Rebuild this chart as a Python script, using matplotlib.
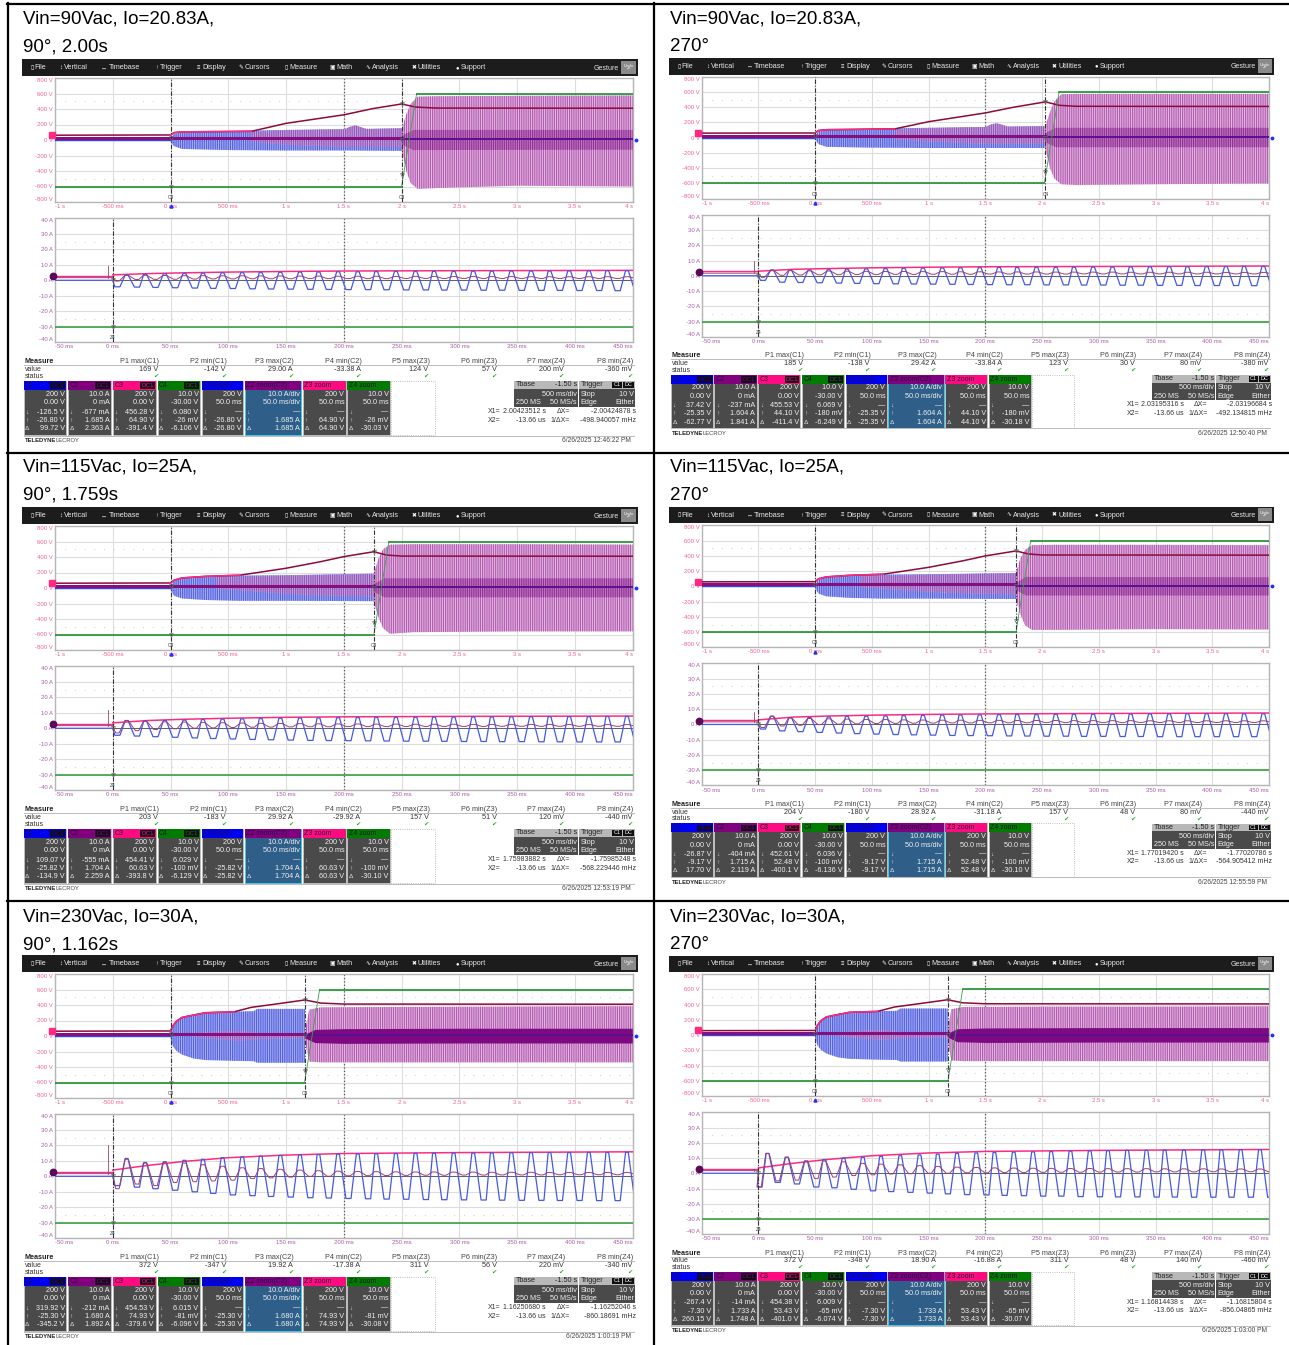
import numpy as np
import matplotlib
matplotlib.use('Agg')
import matplotlib.pyplot as plt
from matplotlib.patches import Rectangle

plt.rcParams['font.family'] = ['Liberation Sans', 'DejaVu Sans']
plt.rcParams['hatch.linewidth'] = 0.6

W, H = 1289, 1345

# shared time lists for the zoomed current plots (ms)
peak_ms_a = [12, 28, 45, 62, 78, 95, 112, 128, 145, 162, 178, 195, 212, 228, 245, 262, 278, 295, 312, 328, 345, 362, 378, 395, 412, 428, 445]
trough_ms_a = [4, 21, 37, 54, 71, 87, 104, 121, 137, 154, 171, 187, 204, 221, 237, 254, 271, 287, 304, 321, 337, 354, 371, 387, 404, 421, 437, 454]
peak_ms_b = [8, 25, 42, 58, 75, 92, 108, 125, 142, 158, 175, 192, 208, 225, 242, 258, 275, 292, 308, 325, 342, 358, 375, 392, 408, 425, 442]
trough_ms_b = [1, 17, 34, 51, 67, 84, 101, 117, 134, 151, 167, 184, 201, 217, 234, 251, 267, 284, 301, 317, 334, 351, 367, 384, 401, 417, 434, 451]
env_ms = [0, 30, 60, 100, 150, 200, 300, 450]

# --- 90Vac 90deg
l1_c2 = 2.004
l1_blue_t = [0, .03, .1, .5, 1, 1.5, 2.004]
l1_blue_hi = [20, 80, 100, 115, 130, 140, 150]
l1_blue_lo = [-20, -80, -115, -130, -135, -135, -140]
l1_pre_t = [.7, 1, 1.5, 1.55, 1.6, 1.65, 1.7, 2.004]
l1_pre_hi = [100, 125, 135, 170, 190, 165, 140, 150]
l1_pre_lo = [-20, -60, -90, -90, -90, -90, -90, -90]
l1_after_t = [2.004, 2.04, 2.08, 2.14, 2.3, 3, 4]
l1_after_hi = [150, 330, 470, 560, 565, 570, 575]
l1_after_lo = [-150, -400, -560, -630, -620, -590, -600]
l1_core_t = [2.004, 2.1, 4]
l1_core_hi = [60, 130, 130]
l1_core_lo = [-60, -130, -125]
l1_red_t = [-1, 0, .03, .1, .7, 1.0, 1.5, 1.75, 2.0, 2.12, 2.3, 4]
l1_red = [62, 65, 95, 105, 112, 215, 325, 405, 465, 425, 412, 410]
l1_green_t = [-1, 2.0, 2.13, 4]
l1_i_hi = [3.5, 3.9, 4.2, 4.4, 4.6, 4.8, 4.9, 5.0, 5.2, 5.3, 5.4, 5.5, 5.5, 5.6, 5.7, 5.7, 5.8, 5.8, 5.9, 5.9, 6.0, 6.0, 6.0, 6.1, 6.1, 6.2, 6.2]
l1_i_lo = [-4.2, -4.4, -4.6, -4.8, -5.0, -5.2, -5.3, -5.5, -5.6, -5.7, -5.8, -5.9, -6.0, -6.0, -6.1, -6.2, -6.2, -6.3, -6.3, -6.4, -6.4, -6.5, -6.5, -6.5, -6.6, -6.6, -6.7, -6.7]
l1_p_hi = [3.2, 3.2, 3.1, 3.0, 3.0, 2.9, 2.9, 2.8, 2.8, 2.7, 2.7, 2.6, 2.6, 2.6, 2.5, 2.5, 2.5, 2.4, 2.4, 2.4, 2.4, 2.3, 2.3, 2.3, 2.3, 2.3, 2.3]
l1_p_lo = [-0.5, 0.5, 0.6, 0.7, 0.8, 0.9, 0.9, 1.0, 1.0, 1.0, 1.1, 1.1, 1.1, 1.1, 1.1, 1.2, 1.2, 1.2, 1.2, 1.2, 1.2, 1.2, 1.2, 1.2, 1.2, 1.2, 1.2, 1.2]
l1_env = [3.5, 4.3, 4.8, 5.3, 5.7, 6.0, 6.2, 6.4]
l1_spike = 9

# --- 90Vac 270deg
r1_c2 = 2.03
r1_blue_t = [0, .03, .1, .5, 1, 1.5, 2.03]
r1_blue_hi = [20, 85, 105, 120, 130, 140, 150]
r1_blue_lo = [-20, -85, -120, -130, -135, -135, -135]
r1_pre_t = [.7, 1, 1.5, 1.55, 1.6, 1.65, 1.7, 2.03]
r1_pre_hi = [100, 125, 140, 175, 190, 170, 145, 150]
r1_pre_lo = [-20, -50, -80, -80, -80, -80, -80, -80]
r1_after_t = [2.03, 2.07, 2.11, 2.17, 2.3, 3, 4]
r1_after_hi = [150, 340, 480, 570, 575, 575, 575]
r1_after_lo = [-150, -400, -540, -610, -620, -610, -600]
r1_core_t = [2.03, 2.12, 4]
r1_core_hi = [60, 130, 130]
r1_core_lo = [-60, -125, -125]
r1_red_t = [-1, 0, .03, .1, .7, 1.0, 1.5, 1.75, 2.03, 2.15, 2.3, 4]
r1_red = [60, 62, 95, 105, 115, 210, 325, 400, 470, 425, 412, 410]
r1_green_t = [-1, 2.02, 2.15, 4]
r1_i_hi = [3.8, 3.6, 3.8, 4.0, 4.3, 4.5, 4.7, 4.9, 5.0, 5.1, 5.2, 5.3, 5.4, 5.4, 5.5, 5.5, 5.6, 5.7, 5.7, 5.8, 5.8, 5.9, 5.9, 6.0, 6.0, 6.1, 6.1]
r1_i_lo = [-3.0, -4.2, -4.4, -4.6, -4.8, -5.0, -5.2, -5.3, -5.4, -5.5, -5.6, -5.7, -5.8, -5.9, -5.9, -6.0, -6.0, -6.1, -6.1, -6.2, -6.2, -6.3, -6.3, -6.4, -6.4, -6.4, -6.5, -6.5]
r1_p_hi = [3.5, 3.4, 3.2, 3.1, 3.0, 2.9, 2.8, 2.8, 2.7, 2.7, 2.6, 2.6, 2.5, 2.5, 2.5, 2.4, 2.4, 2.4, 2.4, 2.3, 2.3, 2.3, 2.3, 2.3, 2.2, 2.2, 2.2]
r1_p_lo = [-1.0, 0.3, 0.5, 0.6, 0.7, 0.8, 0.8, 0.9, 0.9, 1.0, 1.0, 1.0, 1.1, 1.1, 1.1, 1.1, 1.1, 1.2, 1.2, 1.2, 1.2, 1.2, 1.2, 1.2, 1.2, 1.2, 1.2, 1.2]
r1_env = [3.0, 4.2, 4.7, 5.2, 5.6, 5.9, 6.1, 6.4]
r1_spike = 10

# --- 115Vac 90deg
l2_c2 = 1.759
l2_blue_t = [0, .03, .1, .3, .6, 1, 1.759]
l2_blue_hi = [20, 90, 130, 150, 160, 165, 185]
l2_blue_lo = [-20, -100, -135, -155, -165, -165, -170]
l2_pre_t = [.4, .8, 1.2, 1.759]
l2_pre_hi = [130, 150, 165, 180]
l2_pre_lo = [-10, -50, -90, -110]
l2_after_t = [1.759, 1.80, 1.84, 1.90, 2.1, 3, 4]
l2_after_hi = [185, 380, 500, 560, 565, 565, 560]
l2_after_lo = [-180, -380, -520, -590, -570, -560, -560]
l2_core_t = [1.759, 1.85, 4]
l2_core_hi = [50, 125, 125]
l2_core_lo = [-50, -120, -120]
l2_red_t = [-1, 0, .03, .1, .3, .6, 1, 1.3, 1.5, 1.759, 1.87, 2.0, 4]
l2_red = [62, 65, 100, 130, 150, 165, 255, 340, 405, 468, 425, 412, 410]
l2_green_t = [-1, 1.76, 1.89, 4]
l2_i_hi = [5.0, 4.8, 5.0, 5.3, 5.6, 5.9, 6.1, 6.3, 6.5, 6.6, 6.7, 6.8, 6.9, 7.0, 7.0, 7.1, 7.2, 7.2, 7.3, 7.3, 7.4, 7.4, 7.5, 7.5, 7.5, 7.6, 7.6]
l2_i_lo = [-4.5, -5.0, -5.4, -5.8, -6.2, -6.6, -6.9, -7.2, -7.4, -7.6, -7.8, -7.9, -8.0, -8.1, -8.2, -8.3, -8.3, -8.4, -8.5, -8.5, -8.6, -8.6, -8.7, -8.7, -8.8, -8.8, -8.8, -8.8]
l2_p_hi = [5.0, 4.5, 4.2, 4.0, 3.8, 3.6, 3.4, 3.2, 3.1, 3.0, 2.9, 2.8, 2.8, 2.7, 2.7, 2.6, 2.6, 2.6, 2.5, 2.5, 2.5, 2.5, 2.5, 2.4, 2.4, 2.4, 2.4]
l2_p_lo = [-3.0, -1.5, -0.8, -0.3, 0.1, 0.3, 0.5, 0.7, 0.8, 0.9, 1.0, 1.0, 1.1, 1.1, 1.1, 1.2, 1.2, 1.2, 1.2, 1.2, 1.3, 1.3, 1.3, 1.3, 1.3, 1.3, 1.3, 1.3]
l2_env = [3.5, 5.0, 5.8, 6.5, 7.1, 7.4, 7.7, 7.9]
l2_spike = 12

# --- 115Vac 270deg
r2_c2 = 1.77
r2_blue_t = [0, .03, .1, .3, .6, 1, 1.77]
r2_blue_hi = [20, 90, 125, 145, 155, 160, 175]
r2_blue_lo = [-20, -95, -130, -150, -160, -160, -165]
r2_pre_t = [.4, .8, 1.2, 1.77]
r2_pre_hi = [125, 145, 160, 170]
r2_pre_lo = [-10, -50, -85, -105]
r2_after_t = [1.77, 1.81, 1.85, 1.91, 2.1, 3, 4]
r2_after_hi = [175, 370, 480, 540, 545, 545, 540]
r2_after_lo = [-170, -370, -510, -570, -570, -560, -565]
r2_core_t = [1.77, 1.86, 4]
r2_core_hi = [50, 125, 120]
r2_core_lo = [-50, -120, -120]
r2_red_t = [-1, 0, .03, .1, .3, .6, 1, 1.3, 1.5, 1.77, 1.88, 2.0, 4]
r2_red = [60, 62, 100, 125, 145, 160, 250, 335, 400, 465, 425, 412, 410]
r2_green_t = [-1, 1.77, 1.9, 4]
r2_i_hi = [5.4, 4.4, 4.6, 4.9, 5.2, 5.4, 5.6, 5.8, 5.9, 6.1, 6.2, 6.3, 6.4, 6.5, 6.5, 6.6, 6.7, 6.7, 6.8, 6.8, 6.9, 6.9, 7.0, 7.0, 7.0, 7.0, 7.0]
r2_i_lo = [-3.0, -4.2, -4.7, -5.2, -5.6, -6.0, -6.3, -6.6, -6.8, -7.0, -7.2, -7.3, -7.4, -7.5, -7.6, -7.7, -7.7, -7.8, -7.8, -7.9, -7.9, -8.0, -8.0, -8.0, -8.0, -8.0, -8.0, -8.0]
r2_p_hi = [5.4, 4.2, 3.9, 3.7, 3.5, 3.3, 3.2, 3.0, 2.9, 2.8, 2.8, 2.7, 2.7, 2.6, 2.6, 2.6, 2.5, 2.5, 2.5, 2.5, 2.4, 2.4, 2.4, 2.4, 2.4, 2.4, 2.4]
r2_p_lo = [-2.0, -1.0, -0.5, -0.1, 0.2, 0.4, 0.6, 0.7, 0.8, 0.9, 1.0, 1.0, 1.1, 1.1, 1.1, 1.2, 1.2, 1.2, 1.2, 1.2, 1.3, 1.3, 1.3, 1.3, 1.3, 1.3, 1.3, 1.3]
r2_env = [3.0, 4.8, 5.5, 6.1, 6.6, 6.9, 7.2, 7.5]
r2_spike = 8

# --- 230Vac 90deg
l3_c2 = 1.1625
l3_blue_t = [0, .02, .05, .1, .2, .3, .55, .72, .75, 1.1625]
l3_blue_hi = [30, 130, 190, 240, 280, 300, 315, 320, 350, 350]
l3_blue_lo = [-30, -130, -190, -240, -290, -310, -320, -325, -345, -345]
l3_pre_t = [.2, .4, .6, .75, 1.1625]
l3_pre_hi = [30, 60, 65, 40, 25]
l3_pre_lo = [-10, -40, -60, -40, -25]
l3_after_t = [1.1625, 1.2, 1.3, 2, 3, 4]
l3_after_hi = [60, 340, 370, 375, 380, 385]
l3_after_lo = [-60, -330, -340, -340, -340, -340]
l3_core_t = [1.1625, 1.25, 1.5, 2.5, 4]
l3_core_hi = [25, 85, 95, 100, 100]
l3_core_lo = [-25, -85, -95, -90, -90]
l3_red_t = [-1, 0, .02, .05, .1, .3, .55, .7, .9, 1.1625, 1.3, 1.5, 4]
l3_red = [62, 65, 130, 190, 240, 300, 312, 370, 410, 465, 425, 412, 410]
l3_green_t = [-1, 1.16, 1.29, 4]
l3_i_hi = [11.5, 8.9, 9.4, 10.3, 11.0, 12.0, 12.5, 13.0, 13.5, 13.8, 14.0, 14.2, 14.4, 14.5, 14.7, 14.8, 14.9, 15.0, 15.0, 15.1, 15.2, 15.2, 15.3, 15.3, 15.4, 15.4, 15.4]
l3_i_lo = [-6.0, -7.0, -8.0, -9.0, -10.0, -11.0, -12.0, -12.5, -13.0, -13.4, -13.8, -14.0, -14.3, -14.5, -14.7, -14.8, -15.0, -15.1, -15.2, -15.3, -15.4, -15.5, -15.5, -15.6, -15.6, -15.7, -15.7, -15.7]
l3_p_hi = [11.0, 8.5, 9.0, 8.5, 7.5, 6.5, 5.5, 5.0, 4.5, 4.0, 3.6, 3.3, 3.1, 3.0, 2.9, 2.8, 2.8, 2.7, 2.7, 2.6, 2.6, 2.6, 2.5, 2.5, 2.5, 2.5, 2.5]
l3_p_lo = [-8.0, -5.0, -6.0, -4.0, -3.5, -3.0, -2.5, -1.5, -1.0, -0.5, 0.0, 0.0, 0.3, 0.4, 0.5, 0.6, 0.7, 0.7, 0.8, 0.8, 0.9, 0.9, 0.9, 1.0, 1.0, 1.0, 1.0, 1.0]
l3_env = [4.0, 7.0, 9.5, 12.0, 13.7, 14.7, 15.3, 15.8]
l3_spike = 20

# --- 230Vac 270deg
r3_c2 = 1.168
r3_blue_t = [0, .02, .05, .1, .2, .3, .55, .72, .75, 1.168]
r3_blue_hi = [30, 130, 190, 240, 280, 300, 315, 320, 350, 350]
r3_blue_lo = [-30, -130, -190, -240, -290, -310, -320, -325, -345, -345]
r3_pre_t = [.2, .4, .6, .75, 1.168]
r3_pre_hi = [30, 60, 65, 40, 25]
r3_pre_lo = [-10, -40, -60, -40, -25]
r3_after_t = [1.168, 1.2, 1.3, 2, 3, 4]
r3_after_hi = [60, 340, 370, 375, 375, 380]
r3_after_lo = [-60, -330, -340, -340, -340, -340]
r3_core_t = [1.168, 1.25, 1.5, 2.5, 4]
r3_core_hi = [25, 85, 95, 100, 100]
r3_core_lo = [-25, -85, -95, -90, -90]
r3_red_t = [-1, 0, .02, .05, .1, .3, .55, .7, .9, 1.168, 1.3, 1.5, 4]
r3_red = [60, 62, 130, 190, 240, 300, 312, 370, 410, 465, 425, 412, 410]
r3_green_t = [-1, 1.17, 1.3, 4]
r3_i_hi = [13.0, 10.5, 8.0, 9.0, 10.0, 10.5, 11.0, 11.5, 12.0, 12.5, 13.0, 13.3, 13.6, 13.8, 14.0, 14.2, 14.5, 14.7, 14.8, 15.0, 15.0, 15.2, 15.2, 15.4, 15.5, 15.5, 15.5]
r3_i_lo = [-9.0, -6.0, -7.0, -9.0, -9.5, -10.5, -11.5, -12.0, -12.5, -13.0, -13.5, -14.0, -14.2, -14.5, -14.7, -15.0, -15.0, -15.3, -15.4, -15.5, -15.5, -15.6, -15.6, -15.7, -15.7, -15.7, -15.7, -15.7]
r3_p_hi = [13.0, 10.5, 8.0, 8.0, 7.5, 6.5, 6.0, 5.5, 5.0, 4.5, 4.0, 3.8, 3.5, 3.4, 3.3, 3.2, 3.1, 3.1, 3.0, 3.0, 3.0, 2.9, 2.9, 2.9, 2.8, 2.8, 2.8]
r3_p_lo = [-9.0, -5.0, -4.5, -3.5, -2.5, -1.5, -1.0, -0.5, -0.3, 0.0, 0.0, 0.3, 0.3, 0.5, 0.5, 0.6, 0.7, 0.7, 0.8, 0.8, 0.8, 0.9, 0.9, 0.9, 1.0, 1.0, 1.0, 1.0]
r3_env = [3.5, 6.5, 9.0, 11.5, 13.3, 14.3, 15.0, 15.6]
r3_spike = 3

# measurement tables
p_names = ['P1 max(C1)', 'P2 min(C1)', 'P3 max(C2)', 'P4 min(C2)', 'P5 max(Z3)', 'P6 min(Z3)', 'P7 max(Z4)', 'P8 min(Z4)']
l1_meas = ['169 V', '-142 V', '29.00 A', '-33.38 A', '124 V', '57 V', '200 mV', '-360 mV']
r1_meas = ['185 V', '-138 V', '29.42 A', '-33.84 A', '123 V', '30 V', '80 mV', '-380 mV']
l2_meas = ['203 V', '-183 V', '29.92 A', '-29.92 A', '157 V', '51 V', '120 mV', '-440 mV']
r2_meas = ['204 V', '-180 V', '28.92 A', '-31.18 A', '157 V', '48 V', '80 mV', '-440 mV']
l3_meas = ['372 V', '-347 V', '19.92 A', '-17.38 A', '311 V', '56 V', '220 mV', '-340 mV']
r3_meas = ['372 V', '-348 V', '18.90 A', '-16.88 A', '311 V', '48 V', '140 mV', '-460 mV']

# cursor readouts per channel: C1 (3), C2 (3), C3 (3), C4 (3), Z4 delta
l1_read = ['-126.5 V', '-26.80 V', '99.72 V', '-677 mA', '1.685 A', '2.363 A', '456.28 V', '64.90 V', '-391.4 V', '6.080 V', '-26 mV', '-6.106 V', '-30.03 V']
r1_read = ['37.42 V', '-25.35 V', '-62.77 V', '-237 mA', '1.604 A', '1.841 A', '455.53 V', '44.10 V', '-411.4 V', '6.069 V', '-180 mV', '-6.249 V', '-30.18 V']
l2_read = ['109.07 V', '-25.82 V', '-134.9 V', '-555 mA', '1.704 A', '2.259 A', '454.41 V', '60.63 V', '-393.8 V', '6.029 V', '-100 mV', '-6.129 V', '-30.10 V']
r2_read = ['-26.87 V', '-9.17 V', '17.70 V', '-404 mA', '1.715 A', '2.119 A', '452.61 V', '52.48 V', '-400.1 V', '6.036 V', '-100 mV', '-6.136 V', '-30.10 V']
l3_read = ['319.92 V', '-25.30 V', '-345.2 V', '-212 mA', '1.680 A', '1.892 A', '454.53 V', '74.93 V', '-379.6 V', '6.015 V', '-81 mV', '-6.096 V', '-30.08 V']
r3_read = ['-267.4 V', '-7.30 V', '260.15 V', '-14 mA', '1.733 A', '1.748 A', '454.38 V', '53.43 V', '-401.0 V', '6.009 V', '-65 mV', '-6.074 V', '-30.07 V']

l1_cur = ['2.00423512 s', '-2.00424878 s', '-498.940057 mHz', '6/26/2025 12:46:22 PM']
r1_cur = ['2.03195316 s', '-2.03196684 s', '-492.134815 mHz', '6/26/2025 12:50:40 PM']
l2_cur = ['1.75983882 s', '-1.75985248 s', '-568.229446 mHz', '6/26/2025 12:53:19 PM']
r2_cur = ['1.77019420 s', '-1.77020786 s', '-564.905412 mHz', '6/26/2025 12:55:59 PM']
l3_cur = ['1.16250680 s', '-1.16252046 s', '-860.18691 mHz', '6/26/2025 1:00:19 PM']
r3_cur = ['1.16814438 s', '-1.16815804 s', '-856.04865 mHz', '6/26/2025 1:03:00 PM']

up_xlabels = ['-1 s', '-500 ms', '0 ms', '500 ms', '1 s', '1.5 s', '2 s', '2.5 s', '3 s', '3.5 s', '4 s']
up_ylabels = ['800 V', '600 V', '400 V', '200 V', '0 V', '-200 V', '-400 V', '-600 V', '-800 V']
lo_xlabels = ['-50 ms', '0 ms', '50 ms', '100 ms', '150 ms', '200 ms', '250 ms', '300 ms', '350 ms', '400 ms', '450 ms']
lo_ylabels = ['40 A', '30 A', '20 A', '10 A', '0 A', '-10 A', '-20 A', '-30 A', '-40 A']

menu_names = ['File', 'Vertical', 'Timebase', 'Trigger', 'Display', 'Cursors', 'Measure', 'Math', 'Analysis', 'Utilities', 'Support']
menu_icons = ['▯', '↕', '↔', '↑', '≡', '✎', '▯', '▣', '∿', '✖', '●']
menu_x = [34.8, 64, 108.6, 160, 202, 244.6, 289, 336.7, 371.5, 418, 460.6]

box_x = [(23.6, 66.3), (68, 111), (112.8, 155.5), (157.5, 200), (201.5, 243.4), (245, 301.4), (303, 345.8), (347.4, 390)]
box_head = ['C1', 'C2', 'C3', 'C4', 'Z1 zoom', 'Z2 zoom(C2)', 'Z3 zoom', 'Z4 zoom']
box_col = ['#0000f0', '#800080', '#ff0a80', '#007d00', '#0000f0', '#800080', '#ff0a80', '#007d00']
p_x = [159, 227, 294, 361.5, 429.5, 497.5, 564.7, 633.5]

BLUE = '#3347e0'
PURPLE = '#84107f'
PINK = '#ff2a80'
RED = '#8c0a3c'
GREEN = '#0a8a1e'
GREY_BOX = '#4a4a4a'

fig = plt.figure(figsize=(W / 100, H / 100), dpi=100)
page = fig.add_axes([0, 0, 1, 1])
page.set_xlim(0, W)
page.set_ylim(H, 0)
page.axis('off')


def axes_px(x0, y0, x1, y1):
    return fig.add_axes([x0 / W, 1 - y1 / H, (x1 - x0) / W, (y1 - y0) / H])


def style_scope(ax, xlim, ylim, xlabels, ylabels, color):
    ax.set_xlim(*xlim)
    ax.set_ylim(*ylim)
    ax.set_xticks(np.linspace(xlim[0], xlim[1], 11))
    ax.set_yticks(np.linspace(ylim[1], ylim[0], 9))
    ax.set_xticklabels(xlabels)
    ax.set_yticklabels(ylabels)
    ax.tick_params(length=0, pad=1.5, labelsize=4.3, labelcolor=color)
    ax.xaxis.get_ticklabels()[0].set_ha('left')
    ax.xaxis.get_ticklabels()[-1].set_ha('right')
    ax.yaxis.get_ticklabels()[0].set_va('top')
    ax.yaxis.get_ticklabels()[-1].set_va('bottom')
    ax.grid(color='#dddddd', lw=0.8)
    ax.set_axisbelow(True)
    for s in ax.spines.values():
        s.set_color('#b5b5b5')
        s.set_linewidth(1)
    # middle graticule line is darker
    ax.axvline(np.mean(xlim), color='#555555', ls=':', lw=0.9, zorder=1)
    span = ylim[1] * 0.625
    ax.axhline(span, color='#cccccc', ls=(0, (1, 9)), lw=0.7, zorder=1)
    ax.axhline(-span, color='#cccccc', ls=(0, (1, 9)), lw=0.7, zorder=1)


def cycle_line(t_hi, v_hi, t_lo, v_lo, base, w_hi, w_lo):
    pts = [(t, v, w_hi) for t, v in zip(t_hi, v_hi)] + [(t, v, w_lo) for t, v in zip(t_lo, v_lo)]
    pts.sort()
    ts, vs = [-50, 0], [base, base]
    for t, v, w in pts:
        ts += [t - w, t + w]
        vs += [v, v]
    return ts, vs


def draw_voltage(ax, c2, blue_t, blue_hi, blue_lo, pre_t, pre_hi, pre_lo, after_t, after_hi, after_lo,
                 core_t, core_hi, core_lo, red_t, red, green_t, pink_end, solid):
    ax.fill_between(blue_t, blue_lo, blue_hi, facecolor='#aab2f2', edgecolor='#4452dc', hatch='|' * 9, lw=0, zorder=2)
    ax.fill_between(pre_t, pre_lo, pre_hi, facecolor='#d2a0dc', edgecolor='#7a4ab4', hatch='|' * 9, lw=0, zorder=2.1)
    ax.fill_between(after_t, after_lo, after_hi, facecolor='#e4bce2', edgecolor='#aa48a8', hatch='|' * 9, lw=0, zorder=2.2)
    if solid:
        ax.fill_between(core_t, core_lo, core_hi, color='#7d0a82', lw=0, zorder=2.3)
    else:
        ax.fill_between(core_t, core_lo, core_hi, facecolor='#c47cc0', edgecolor='#862090', hatch='|' * 9, lw=0, zorder=2.3)
    ax.plot([-1, 0], [0, 0], color=BLUE, lw=1, zorder=3)
    ax.plot([-1, c2], [28, 28], color=PURPLE, lw=2.2, zorder=3.1)
    ax.plot([c2, 4], [8, 8], color='#5a1090', lw=1.4, zorder=3.1)
    rt, rv = np.array(red_t), np.array(red)
    ax.plot(rt, rv, color=RED, lw=1.1, zorder=3.3)
    m = (rt >= 0) & (rt <= pink_end)
    ax.plot(rt[m], rv[m], color=PINK, lw=1.1, zorder=3.4)
    green_v = [-600, -600, 600, 600]
    ax.plot(green_t[:2], green_v[:2], color=GREEN, lw=1.1, zorder=3.5)
    ax.plot(green_t[1:3], green_v[1:3], color='#38a048', lw=0.6, zorder=3.5)
    ax.plot(green_t[2:], green_v[2:], color=GREEN, lw=1.1, zorder=3.5)
    for t in (0, c2):
        ax.axvline(t, color='#333333', ls=(0, (4, 1.5, 1, 1.5)), lw=0.8, zorder=4)
    ax.plot([0, 0, c2, c2, c2], [-600, 20, 465, 0, -450], ls='', marker='v', ms=2.8, mfc='none', mec='#666666', mew=0.5, zorder=5)
    ax.text(0, -740, 'C4', fontsize=3.5, color='#444444', ha='center', va='center', zorder=5)
    ax.text(c2, -740, 'C4', fontsize=3.5, color='#444444', ha='center', va='center', zorder=5)
    ax.plot([-1.03], [62], marker='s', ms=4.6, color=PINK, clip_on=False, zorder=6)
    ax.plot([4.03], [0], marker='.', ms=3.5, color='#2030ff', clip_on=False, zorder=6)
    ax.plot([0], [-855], marker='^', ms=2.2, color='#2030ff', clip_on=False, zorder=6)


def draw_current(ax, peak_ms, trough_ms, i_hi, i_lo, p_hi, p_lo, env, spike):
    ax.plot([-50, 0], [3, 3], color=PINK, lw=1, zorder=3)
    ax.plot(env_ms, env, color=PINK, lw=1.1, zorder=3)
    ax.plot([0, 450], [0, 0], color='#556070', lw=0.7, zorder=2.5)
    ts, vs = cycle_line(peak_ms, i_hi, trough_ms, i_lo, 0, 1.2, 2.2)
    ax.plot(ts, vs, color='#4558e6', lw=0.9, zorder=3.2)
    ts, vs = cycle_line(peak_ms, p_hi, trough_ms, p_lo, 1.7, 1.5, 1.5)
    ax.plot(ts, vs, color='#a0406c', lw=0.7, zorder=3.3)
    ax.plot([-4, -4], [1.7, spike], color='#a0406c', lw=0.6, zorder=3.3)
    ax.plot([-50, 450], [-30, -30], color='#3ca040', lw=1.2, zorder=3.4)
    ax.axvline(0, color='#333333', ls=(0, (4, 1.5, 1, 1.5)), lw=0.8, zorder=4)
    ax.plot([0, 0], [-30, 0], ls='', marker='v', ms=2.8, mfc='none', mec='#666666', mew=0.5, zorder=5)
    ax.text(0, -37, 'Z4', fontsize=3.5, color='#333333', ha='center', va='center', zorder=5)
    ax.plot([-52], [2.5], marker='o', ms=4.6, color='#5a0a5a', clip_on=False, zorder=6)


def draw_table(gx, gy, title1, title2, title_y, meas, read, cur):
    page.text(gx(21.5) + 1.5, title_y[0], title1, fontsize=13.5, va='center', color='black')
    page.text(gx(21.5) + 1.5, title_y[1], title2, fontsize=13.5, va='center', color='black')

    # menu bar
    page.add_patch(Rectangle((gx(21.5), gy(59)), gx(638) - gx(21.5), gy(76) - gy(59), color='#1c1c1c', lw=0))
    for name, icon, x in zip(menu_names, menu_icons, menu_x):
        page.text(gx(x) - 1.5, gy(67.5), icon, fontsize=4.2, color='white', ha='right', va='center')
        page.text(gx(x), gy(67.5), name, fontsize=5.2, color='#e6e6e6', va='center')
    page.text(gx(594), gy(68), 'Gesture', fontsize=5, color='#e6e6e6', va='center')
    page.add_patch(Rectangle((gx(621), gy(60.5)), gx(636) - gx(621), gy(74) - gy(60.5), color='#8a8a8a', lw=0))
    page.text(gx(628.5), gy(67.5), 'Undo\n↶', fontsize=3, color='white', ha='center', va='center', linespacing=0.9)

    # measure strip
    page.text(gx(24.5), gy(361.7), 'Measure', fontsize=5.2, fontweight='bold', color='#222222', va='center')
    page.plot([gx(24), gx(634)], [gy(365), gy(365)], color='#bbbbbb', lw=0.7)
    page.text(gx(24.5), gy(369.3), 'value', fontsize=5, color='#333333', va='center')
    page.text(gx(24.5), gy(376.3), 'status', fontsize=5, color='#333333', va='center')
    for name, value, x in zip(p_names, meas, p_x):
        page.text(gx(x), gy(361.5), name, fontsize=5.2, color='#444444', ha='right', va='center')
        page.text(gx(x - 1), gy(369.3), value, fontsize=5.2, color='#333333', ha='right', va='center')
        page.text(gx(x - 3.5), gy(376.3), '✔', fontsize=4.6, color='#22b022', ha='center', va='center')

    # channel boxes
    z1, z2, z3 = read[1], read[4], read[7]
    rows = [
        ['200 V', '0.00 V', read[0], read[1], read[2]],
        ['10.0 A', '0 mA', read[3], read[4], read[5]],
        ['200 V', '0.00 V', read[6], read[7], read[8]],
        ['10.0 V', '-30.00 V', read[9], read[10], read[11]],
        ['200 V', '50.0 ms', '—', z1, z1],
        ['10.0 A/div', '50.0 ms/div', '—', z2, z2],
        ['200 V', '50.0 ms', '—', z3, z3],
        ['10.0 V', '50.0 ms', '—', read[10], read[12]],
    ]
    row_y = [394, 403, 412, 420.7, 429]
    for i, ((x0, x1), head, col, vals) in enumerate(zip(box_x, box_head, box_col, rows)):
        body = '#2f5f88' if i == 5 else GREY_BOX
        edge = '#40c8e8' if i == 5 else '#bdbdbd'
        page.add_patch(Rectangle((gx(x0), gy(380.7)), gx(x1) - gx(x0), gy(435) - gy(380.7), facecolor=body, edgecolor=edge, lw=0.7))
        page.add_patch(Rectangle((gx(x0), gy(380.7)), gx(x1) - gx(x0), gy(390) - gy(380.7), color=col, lw=0))
        page.text(gx(x0 + 1.5), gy(385.5), head, fontsize=5, color='#20103a', va='center')
        if i < 4:
            page.add_patch(Rectangle((gx(x1 - 16), gy(382)), gx(x1 - 1) - gx(x1 - 16), gy(389) - gy(382), color='#150a18', lw=0))
            page.text(gx(x1 - 2), gy(385.5), 'DC1', fontsize=4.5, color=col, ha='right', va='center')
        for y, v in zip(row_y, vals):
            page.text(gx(x1 - 1.5), gy(y), v, fontsize=5.2, color='#f0f0f0', ha='right', va='center')
        for y, s in zip(row_y[2:], ['↓', '↑', 'Δ']):
            page.text(gx(x0 + 1.5), gy(y), s, fontsize=4.6, color='#e0e0e0', va='center')
    page.add_patch(Rectangle((gx(391), gy(380.7)), gx(434.5) - gx(391), gy(435) - gy(380.7), facecolor='white', edgecolor='#aaaaaa', lw=0.6, ls=':'))

    # timebase + trigger
    page.add_patch(Rectangle((gx(514), gy(381)), gx(578) - gx(514), gy(389) - gy(381), color='#b8b8b8', lw=0))
    page.add_patch(Rectangle((gx(514), gy(389)), gx(578) - gx(514), gy(407) - gy(389), color=GREY_BOX, lw=0))
    page.add_patch(Rectangle((gx(579), gy(381)), gx(635) - gx(579), gy(389) - gy(381), color='#b8b8b8', lw=0))
    page.add_patch(Rectangle((gx(579), gy(389)), gx(635) - gx(579), gy(407) - gy(389), color=GREY_BOX, lw=0))
    page.add_patch(Rectangle((gx(612), gy(382)), gx(622) - gx(612), gy(388) - gy(382), color='#101010', lw=0))
    page.add_patch(Rectangle((gx(623), gy(382)), gx(634) - gx(623), gy(388) - gy(382), color='#101010', lw=0))
    page.text(gx(617), gy(385), 'C1', fontsize=4, color='white', ha='center', va='center')
    page.text(gx(628.5), gy(385), 'DC', fontsize=4, color='white', ha='center', va='center')
    page.text(gx(515.5), gy(385), 'Tbase', fontsize=5.2, color='#222222', va='center')
    page.text(gx(577), gy(385), '-1.50 s', fontsize=5.2, color='#222222', ha='right', va='center')
    page.text(gx(580.5), gy(385), 'Trigger', fontsize=5.2, color='#222222', va='center')
    page.text(gx(577), gy(394), '500 ms/div', fontsize=5.2, color='#f0f0f0', ha='right', va='center')
    page.text(gx(515.5), gy(402.5), '250 MS', fontsize=5.2, color='#f0f0f0', va='center')
    page.text(gx(577), gy(402.5), '50 MS/s', fontsize=5.2, color='#f0f0f0', ha='right', va='center')
    page.text(gx(580.5), gy(394), 'Stop', fontsize=5.2, color='#f0f0f0', va='center')
    page.text(gx(634), gy(394), '10 V', fontsize=5.2, color='#f0f0f0', ha='right', va='center')
    page.text(gx(580.5), gy(402.5), 'Edge', fontsize=5.2, color='#f0f0f0', va='center')
    page.text(gx(634), gy(402.5), 'Either', fontsize=5.2, color='#f0f0f0', ha='right', va='center')

    # cursor readout
    page.text(gx(488), gy(411.5), 'X1=', fontsize=5, color='#333333', va='center')
    page.text(gx(488), gy(420), 'X2=', fontsize=5, color='#333333', va='center')
    page.text(gx(546), gy(411.5), cur[0], fontsize=5, color='#333333', ha='right', va='center')
    page.text(gx(546), gy(420), '-13.66 us', fontsize=5, color='#333333', ha='right', va='center')
    page.text(gx(570), gy(411.5), 'ΔX=', fontsize=5, color='#333333', ha='right', va='center')
    page.text(gx(570), gy(420), '1/ΔX=', fontsize=5, color='#333333', ha='right', va='center')
    page.text(gx(636), gy(411.5), cur[1], fontsize=5, color='#333333', ha='right', va='center')
    page.text(gx(636), gy(420), cur[2], fontsize=5, color='#333333', ha='right', va='center')

    # footer
    page.plot([gx(24), gx(634)], [gy(435.5), gy(435.5)], color='#bbbbbb', lw=0.7)
    page.text(gx(25), gy(440.5), 'TELEDYNE', fontsize=4.2, fontweight='bold', color='#222222', va='center')
    page.text(gx(56), gy(440.5), 'LECROY', fontsize=4.2, color='#444444', va='center')
    page.text(gx(631), gy(440.5), cur[3], fontsize=4.8, color='#444444', ha='right', va='center')


panels = [
    (21.5, 59, 1, 1, 'Vin=90Vac, Io=20.83A,', '90°, 2.00s', (19.5, 46.5), l1_meas, l1_read, l1_cur,
     (l1_c2, l1_blue_t, l1_blue_hi, l1_blue_lo, l1_pre_t, l1_pre_hi, l1_pre_lo, l1_after_t, l1_after_hi, l1_after_lo, l1_core_t, l1_core_hi, l1_core_lo, l1_red_t, l1_red, l1_green_t, 0.7, False),
     (peak_ms_a, trough_ms_a, l1_i_hi, l1_i_lo, l1_p_hi, l1_p_lo, l1_env, l1_spike)),
    (668.8, 58, 0.982, 0.984, 'Vin=90Vac, Io=20.83A,', '270°', (19.5, 46.5), r1_meas, r1_read, r1_cur,
     (r1_c2, r1_blue_t, r1_blue_hi, r1_blue_lo, r1_pre_t, r1_pre_hi, r1_pre_lo, r1_after_t, r1_after_hi, r1_after_lo, r1_core_t, r1_core_hi, r1_core_lo, r1_red_t, r1_red, r1_green_t, 0.7, False),
     (peak_ms_a, trough_ms_a, r1_i_hi, r1_i_lo, r1_p_hi, r1_p_lo, r1_env, r1_spike)),
    (21.5, 507, 1, 1, 'Vin=115Vac, Io=25A,', '90°, 1.759s', (467.5, 495.5), l2_meas, l2_read, l2_cur,
     (l2_c2, l2_blue_t, l2_blue_hi, l2_blue_lo, l2_pre_t, l2_pre_hi, l2_pre_lo, l2_after_t, l2_after_hi, l2_after_lo, l2_core_t, l2_core_hi, l2_core_lo, l2_red_t, l2_red, l2_green_t, 0.6, False),
     (peak_ms_a, trough_ms_a, l2_i_hi, l2_i_lo, l2_p_hi, l2_p_lo, l2_env, l2_spike)),
    (668.8, 506.7, 0.982, 0.984, 'Vin=115Vac, Io=25A,', '270°', (467.5, 495.5), r2_meas, r2_read, r2_cur,
     (r2_c2, r2_blue_t, r2_blue_hi, r2_blue_lo, r2_pre_t, r2_pre_hi, r2_pre_lo, r2_after_t, r2_after_hi, r2_after_lo, r2_core_t, r2_core_hi, r2_core_lo, r2_red_t, r2_red, r2_green_t, 0.6, False),
     (peak_ms_a, trough_ms_a, r2_i_hi, r2_i_lo, r2_p_hi, r2_p_lo, r2_env, r2_spike)),
    (21.5, 955, 1, 1, 'Vin=230Vac, Io=30A,', '90°, 1.162s', (916.5, 944.5), l3_meas, l3_read, l3_cur,
     (l3_c2, l3_blue_t, l3_blue_hi, l3_blue_lo, l3_pre_t, l3_pre_hi, l3_pre_lo, l3_after_t, l3_after_hi, l3_after_lo, l3_core_t, l3_core_hi, l3_core_lo, l3_red_t, l3_red, l3_green_t, 0.55, True),
     (peak_ms_a, trough_ms_a, l3_i_hi, l3_i_lo, l3_p_hi, l3_p_lo, l3_env, l3_spike)),
    (668.8, 955.5, 0.982, 0.984, 'Vin=230Vac, Io=30A,', '270°', (916.5, 944.5), r3_meas, r3_read, r3_cur,
     (r3_c2, r3_blue_t, r3_blue_hi, r3_blue_lo, r3_pre_t, r3_pre_hi, r3_pre_lo, r3_after_t, r3_after_hi, r3_after_lo, r3_core_t, r3_core_hi, r3_core_lo, r3_red_t, r3_red, r3_green_t, 0.55, True),
     (peak_ms_b, trough_ms_b, r3_i_hi, r3_i_lo, r3_p_hi, r3_p_lo, r3_env, r3_spike)),
]

for ox, oy, sx, sy, title1, title2, title_y, meas, read, cur, volt, curr in panels:
    gx = lambda v, ox=ox, sx=sx: ox + (v - 21.5) * sx
    gy = lambda v, oy=oy, sy=sy: oy + (v - 59) * sy
    draw_table(gx, gy, title1, title2, title_y, meas, read, cur)
    ax_up = axes_px(gx(55), gy(78), gx(632.7), gy(202))
    style_scope(ax_up, (-1, 4), (-800, 800), up_xlabels, up_ylabels, '#f0609c')
    draw_voltage(ax_up, *volt)
    ax_lo = axes_px(gx(55), gy(218.3), gx(632.7), gy(342.3))
    style_scope(ax_lo, (-50, 450), (-40, 40), lo_xlabels, lo_ylabels, '#a85aa8')
    draw_current(ax_lo, *curr)

# table rules of the surrounding document
for y in (3.5, 452.5, 901):
    page.plot([7, W], [y, y], color='black', lw=1.6)
for x in (7.5, 654):
    page.plot([x, x], [3, H], color='black', lw=1.6)

fig.savefig('out.png', dpi=100)
